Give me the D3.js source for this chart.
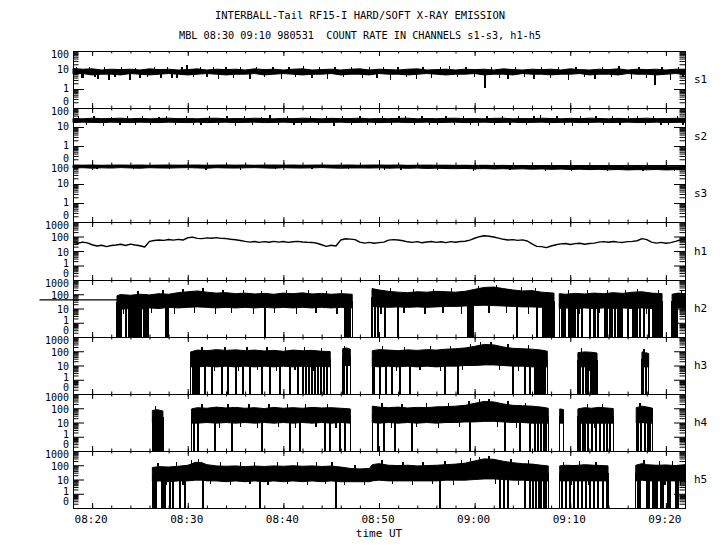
<!DOCTYPE html>
<html>
<head>
<meta charset="utf-8">
<script src="https://cdn.jsdelivr.net/npm/d3@7/dist/d3.min.js"></script>
<style>
html,body{margin:0;padding:0;background:#fff;}
svg{display:block;}
text{font-family:"DejaVu Sans Mono","Liberation Mono",monospace;font-size:11px;fill:#000;white-space:pre;}
text.ylab{font-size:10px;}
</style>
</head>
<body>
<svg id="chart" width="720" height="550"></svg>
<script>
// ================= DATA =================
const titleLine1 = "INTERBALL-Tail RF15-I HARD/SOFT X-RAY EMISSION";
const titleLine2 = "MBL 08:30 09:10 980531  COUNT RATE IN CHANNELS s1-s3, h1-h5";
const xAxisTitle = "time UT";
// time is in minutes after 08:00 UT
const timeDomain = [18, 82];
const xMajorTicks = [20, 30, 40, 50, 60, 70, 80];
const xTickLabels = ["08:20","08:30","08:40","08:50","09:00","09:10","09:20"];
const channelNames = ["s1","s2","s3","h1","h2","h3","h4","h5"];
const channelTopValue = [100,100,100,1000,1000,1000,1000,1000];
const yTickValues3 = [0.1,1,10,100];
const yTickLabels3 = ["0","1","10","100"];
const yTickValues4 = [0.1,1,10,100,1000];
const yTickLabels4 = ["0","1","10","100","1000"];

// soft channels: max / min count rate per 1-minute bin, starting 08:18
const sGridStart = 18;
const s1Hi = [12,11,11.5,10,11,10.5,11,10,11.5,10.5, 11,10,10.5,11.5,10,11,10.5,11,10,11.5, 10.5,11,10,11,11.5,10,10.5,11,10,11, 11.5,10,11,10.5,10,11,11.5,10,10.5,11, 10,11,10.5,11,10,11.5,10.5,10,11,10.5, 11,10,11.5,10.5,10,11,10.5,11.5,10,11, 10.5,11,10,11,11];
const s1Lo = [6,6.5,5.5,6,6,5.5,6.5,6,5.5,6, 6.5,6,5.5,6,6.5,6,5.5,6,6,6.5, 5.5,6,6.5,6,5.5,6,6,6.5,5.5,6, 6,5.5,6.5,6,6,5.5,6,6.5,6,5.5, 6,6,6.5,5.5,6,6,5.5,6.5,6,6, 5.5,6,6,6.5,5.5,6,6,5.5,6.5,6, 6,5.5,6,6.5,6];
const s1Spikes = [[18.4,15],[18.9,4],[19.05,4.0],[19.7,14],[20.3,4.2],[20.6,3.5],[21.3,15],[21.76,3.0],[22.4,4.3],[23.1,14],[23.96,3.0],[24.5,13.5],[25.0,3.6],[25.8,4.2],[26.5,15],[27.2,4.0],[27.9,14],[28.35,3.6],[28.88,3.8],[29.4,14],[29.92,18],[30.6,4.1],[31.3,14.5],[32.0,4.3],[32.7,15],[33.2,3.4],[34.0,14],[34.8,4.0],[35.5,15],[36.5,3.2],[37.2,14],[38.0,4.2],[38.9,15],[39.8,3.5],[40.6,14],[41.3,4.1],[42.1,17],[43.0,4.0],[43.8,14.5],[44.6,3.3],[45.4,15],[46.3,4.2],[47.1,14],[48.3,3.6],[49.0,15],[49.8,4.0],[50.5,14],[51.2,3.1],[52.0,15],[52.9,4.2],[53.9,3.5],[54.6,14],[55.5,4.0],[56.4,15],[57.4,16],[58.2,4.1],[59.1,14],[60.0,4.3],[61.08,1.14],[61.8,15],[62.6,4.0],[63.5,3.3],[64.3,14],[65.2,4.2],[66.2,3.4],[67.0,15],[67.9,4.0],[68.8,14],[69.8,3.0],[70.6,15],[71.5,4.1],[72.6,3.2],[73.4,14],[74.3,4.2],[75.1,17],[76.4,3.3],[77.2,14.5],[78.0,4.0],[78.86,1.64],[79.6,15],[80.5,3.1],[81.3,14],[81.8,4.2]];

const s2Hi = [28,27,29,27.5,28,29,27,28.5,27,28, 29,27.5,28,27,28.5,29,27,28,27.5,29, 28,27,28.5,27.5,29,28,27,28.5,27.5,28, 29,27,28,27.5,28.5,29,27,28,27.5,28.5, 29,27.5,28,27,28.5,29,27,28,27.5,29, 28,27,28.5,27.5,29,28,27,28.5,27,28, 29,27.5,28,28.5,29];
const s2Lo = [17,18,17.5,17,18,17.5,17,18,17.5,17, 18,17.5,17,18,17,17.5,18,17,17.5,18, 17,17.5,18,17,17.5,18,17,17.5,18,17, 17.5,18,17,17.5,18,17,17.5,18,17,17.5, 18,17,17.5,18,17,17.5,18,17,17.5,18, 17,17.5,18,17,17.5,18,17,17.5,18,17, 17.5,18,17,17.5,18];
const s2Spikes = [[18.6,36],[19.4,13],[20.2,38],[21.2,11],[22.0,35],[22.9,13],[23.7,37],[24.5,12],[25.3,36],[26.1,13],[27.0,35],[27.8,40],[28.7,13],[29.9,39],[30.6,13],[31.4,12],[32.3,36],[33.2,13],[34.1,37],[35.0,11],[35.9,36],[36.8,13],[37.7,35],[38.6,42],[39.5,13],[40.4,36],[41.1,13],[41.9,12],[42.8,37],[43.7,13],[44.5,36],[45.3,11],[46.2,36],[47.1,13],[48.0,37],[48.8,13],[49.6,13],[50.4,36],[51.3,13],[52.1,37],[52.8,40],[53.7,13],[54.5,36],[55.3,13],[56.1,12],[57.0,37],[57.9,13],[58.8,36],[59.6,13],[60.4,11],[61.3,37],[62.1,13],[62.9,36],[63.7,12],[64.6,36],[65.4,13],[66.2,37],[66.9,45],[67.8,13],[68.6,36],[69.4,13],[70.2,11],[71.1,37],[71.9,13],[72.7,36],[73.5,12],[74.4,37],[75.2,13],[76.1,36],[77.0,40],[77.9,13],[78.7,36],[79.5,13],[80.3,12],[81.2,37],[81.8,13]];

const s3Hi = [100,98,100,97,99,100,98,100,97,99, 100,98,99,100,97,99,100,98,100,97, 99,100,98,100,97,99,100,98,99,100, 97,99,100,98,100,96,98,99,97,98, 96,97,95,97,94,96,93,95,92,94, 91,93,90,92,89,91,88,90,87,89, 86,88,85,87,88];
const s3Lo = [70,72,68,71,69,73,70,68,72,70, 69,71,73,70,68,72,70,69,71,73, 70,68,72,70,69,71,73,70,68,70, 70,69,71,68,70,67,69,66,68,65, 64,66,63,65,62,64,61,63,60,62, 59,61,58,60,57,59,56,58,55,57, 56,58,55,57,56];
const s3Spikes = [[20.5,60],[24.3,58],[28.1,62],[31.9,57],[35.5,55],[39.2,60],[43.0,58],[46.8,60],[50.6,56],[52.3,52],[56.1,54],[59.9,50],[63.7,52],[67.4,48],[70.1,48],[73.9,50],[77.6,47],[80.9,49]];

// h1: count rate every 30 s from 08:18
const h1Start = 18, h1Step = 0.5;
const h1Values = [38,34,41,36, 27,22,25,20,24,26, 29,24,30,26, 23,19, 46,53,57,54,62,56,63,57, 82,90, 74,71, 80,76,84,74,72,64,60,53, 46,41,45,39,44,40,46,41,45,39,43,46,42,40,39,34, 27,21,25,22, 57,70,66,61, 41,35,39,34,38,41, 56,61,57,51, 43,39,44,37,42,45,39,43,38,44,40,45,47,56, 76,97,112,103,92,78, 64,57,61,54,59,49, 31,21,20,17,22, 27,31,33,28,32,34,29,33,35, 41,44,40,45,41,39,44,46,51, 72,61, 41,35,39,34,38, 46,57,62];

// hard channels: [time, max, min] of the noisy count rate; null = no counts (gap)
const h2Flat = [[14.5,40],[22.6,40]];
const h2Band = [
 [22.6,80,10],[23,95,9],[24,85,10],[25,100,9],[26,90,11],[27,110,10],[28,100,12],[29,130,11],[30,150,12],[31,170,13],[32,140,12],[33,120,11],[34,130,12],[35,110,11],[36,120,12],[37,105,11],[38,115,12],[39,100,11],[40,120,12],[41,110,11],[42,125,12],[43,105,11],[44,115,12],[45,100,11],[46,110,12],[47.2,100,11],
 null,
 [49.27,250,14],[50,200,13],[51,160,12],[52,140,13],[53,130,12],[54,150,13],[55,140,12],[56,160,13],[57,150,14],[58,140,14],[59,160,15],[60,220,16],[61,300,17],[62,320,16],[63,250,15],[64,200,14],[65,170,13],[66,180,13],[67,140,12],[68.3,120,11],
 null,
 [68.85,110,10],[69.5,100,11],[70.5,115,10],[71.5,105,11],[72.5,120,10],[73.5,110,11],[74.5,130,10],[75.5,115,11],[76.5,140,10],[77.5,150,11],[78.5,120,10],[79.6,110,10],
 null,
 [80.65,100,10],[81.3,120,11],[82,110,10]
];
const h2Drops = [22.81,22.92,23.02,23.54,23.86,24.07,24.17,24.38,24.48,24.69,24.9,25.11,25.42,25.53,25.74,25.84,27.73,27.93,38.08,46.45,46.55,46.65,46.76,46.97,49.58,49.9,50.63,51.99,59.31,59.52,59.62,59.83,64.43,66.52,67.15,67.26,67.47,67.57,67.67,67.88,67.99,68.2,69.14,69.24,69.45,69.87,70.08,70.29,70.5,70.81,71.23,72.07,72.48,72.59,72.9,73.63,73.84,74.16,74.37,74.68,74.99,75.2,75.41,76.04,76.56,76.77,76.98,77.3,77.72,78.24,78.65,78.86,79.07,79.28,79.49,80.85,80.95,81.06,81.16];
const h2Spikes = [[23.3,4],[24.8,180],[26.2,5],[27.4,190],[28.6,4],[29.5,220],[30.7,5],[31.6,260],[32.9,4],[33.7,200],[34.6,5],[35.8,190],[36.9,4],[37.7,180],[39.1,5],[40.3,200],[41.4,4],[42.6,210],[43.4,5],[44.5,180],[45.6,4],[46.1,190],[50.2,4],[51.2,260],[52.6,5],[53.6,230],[54.8,4],[55.7,250],[56.7,5],[57.6,260],[58.6,4],[60.4,400],[61.5,5],[62.3,450],[63.3,5],[64.9,300],[65.6,4],[66.4,280],[69.8,200],[70.9,4],[71.8,190],[73.0,5],[73.9,200],[75.0,4],[75.8,210],[77.0,220],[78.0,4],[79.2,190],[81.6,200]];

const h3Band = [
 [30.3,90,8],[31,120,8],[32,110,9],[33,130,8],[34,115,9],[35,125,8],[36,110,9],[37,120,8],[38,105,9],[39,115,8],[40,100,9],[41,120,8],[42,110,9],[43,115,8],[44,100,9],[44.9,95,8],
 null,
 [46.2,150,10],[46.6,170,10],[47.0,140,10],
 null,
 [49.3,110,9],[50,130,8],[51,120,9],[52,110,8],[53,125,9],[54,115,8],[55,130,9],[56,120,8],[57,140,9],[58,150,9],[59,170,10],[60,220,10],[61,300,11],[62,280,11],[63,200,10],[64,160,9],[65,150,9],[66,140,8],[67,120,8],[67.6,100,8],
 null,
 [70.8,80,8],[71.5,90,8],[72.2,85,8],[72.8,75,8],
 null,
 [77.5,90,8],[77.85,80,8],[78.2,70,8]
];
const h3Drops = [30.55,30.76,30.97,31.18,31.8,32.53,33.58,34.21,35.05,35.78,36.51,37.76,38.6,39.65,40.69,41.53,42.05,42.37,42.68,42.99,43.3,43.62,43.93,44.25,44.56,46.34,46.65,49.48,50.1,50.73,51.36,52.2,53.24,56.9,58.26,64.01,65.27,65.79,66.31,66.52,66.73,66.94,67.15,67.36,71.02,71.33,71.65,71.86,72.17,72.38,72.59,77.61,77.92];
const h3Spikes = [[31.5,200],[32.8,4],[33.9,210],[35.3,4],[36.2,200],[37.3,5],[38.3,190],[39.3,4],[40.2,200],[41.2,5],[42.2,190],[43.1,4],[44.0,180],[46.4,250],[50.4,220],[51.8,4],[52.7,210],[54.3,5],[55.4,230],[56.4,4],[57.5,240],[58.7,5],[59.6,300],[60.6,420],[61.7,450],[62.6,5],[63.5,320],[64.6,4],[65.6,260],[71.2,160],[72.0,4],[77.7,150]];

const h4Band = [
 [26.3,70,9],[26.8,80,9],[27.4,65,9],
 null,
 [30.4,90,9],[31,110,9],[32,100,10],[33,120,9],[34,105,10],[35,115,9],[36,100,10],[37,110,9],[38,95,10],[39,115,9],[40,100,10],[41,110,9],[42,100,10],[43,115,9],[44,105,10],[45,110,9],[46,100,10],[47.0,90,9],
 null,
 [49.3,140,10],[50,120,9],[51,110,10],[52,120,9],[53,105,10],[54,115,9],[55,110,10],[56,125,9],[57,130,10],[58,140,10],[59,160,11],[60,220,11],[61,300,12],[62,280,12],[63,200,11],[64,160,10],[65,150,10],[66,140,9],[67,120,9],[67.7,100,9],
 null,
 [68.9,90,9],[69.3,80,9],
 null,
 [70.8,90,9],[71.5,110,9],[72.2,100,9],[73,115,9],[73.8,105,9],[74.5,95,9],
 null,
 [76.9,110,9],[77.5,140,10],[78.1,120,9],[78.6,100,9]
];
const h4Drops = [26.37,26.58,26.78,26.99,27.2,30.65,31.07,32.85,34.63,37.76,40.69,41.74,44.35,44.88,45.92,46.45,49.9,50.52,51.67,53.45,59.52,63.18,64.75,65.79,66.31,66.63,66.94,67.26,67.47,71.02,71.33,71.54,71.86,72.28,72.69,73.11,73.53,73.84,74.16,77.09,77.4,77.82,78.13,78.34];
const h4Spikes = [[26.6,140],[31.5,200],[33.3,4],[34.2,210],[35.5,5],[36.4,190],[37.3,4],[38.5,200],[39.5,5],[40.4,190],[41.3,4],[42.3,200],[43.4,5],[44.6,190],[45.5,4],[50.3,230],[51.3,4],[52.4,210],[53.9,5],[55.0,220],[56.2,4],[57.3,240],[58.4,5],[59.4,300],[60.5,420],[61.5,460],[62.4,5],[63.5,320],[64.4,4],[65.3,250],[71.8,200],[72.6,4],[73.4,190],[77.3,220],[77.9,4]];

const h5Band = [
 [26.3,70,7],[27,80,8],[28,75,7],[29,85,8],[30,100,8],[30.8,160,9],[31.5,150,9],[32,110,8],[33,90,8],[34,85,7],[35,90,8],[36,80,7],[37,88,8],[38,82,7],[39,90,8],[40,85,7],[41,92,8],[42,85,7],[43,90,8],[44,82,7],[45,88,8],[46,75,7],[47,60,7],[48,55,7],[49,60,7],[49.3,110,8],[50,130,9],[51,100,8],[52,95,8],[53,100,8],[54,90,8],[55,95,8],[56,100,8],[57,110,9],[58,120,9],[59,140,9],[60,200,10],[61,280,11],[62,260,11],[63,190,10],[64,150,9],[65,130,9],[66,120,8],[67,100,8],[67.7,90,8],
 null,
 [68.9,90,8],[69.5,100,8],[70.5,95,8],[71.5,110,8],[72.5,100,8],[73.5,95,8],[73.95,90,8],
 null,
 [76.85,100,8],[77.5,130,9],[78,110,8],[79,100,8],[80,105,8],[81,95,8],[82,110,8]
];
const h5Drops = [26.47,26.68,27.31,27.41,27.52,27.62,28.14,28.46,29.19,29.71,31.59,37.55,45.5,56.38,62.65,63.07,63.49,65.27,65.79,66.1,66.42,66.73,66.94,67.26,67.47,69.14,69.56,69.97,70.39,70.81,71.23,71.65,72.07,72.48,72.9,73.42,73.84,77.09,77.3,78.03,78.24,78.65,78.86,79.07,79.49,79.7,80.22,80.43,81.06,81.27];
const h5Spikes = [[26.9,150],[27.8,4],[28.8,160],[29.5,4],[30.4,220],[31.1,260],[32.4,5],[33.4,170],[34.5,4],[35.5,170],[36.5,5],[37.0,160],[38.4,4],[39.4,170],[40.4,5],[41.5,175],[42.5,4],[43.5,170],[44.4,5],[45.1,160],[46.4,4],[47.5,110],[48.5,4],[50.3,230],[51.4,5],[52.5,180],[53.5,4],[54.6,175],[55.6,5],[56.9,190],[57.8,4],[58.6,220],[59.6,300],[60.5,380],[61.5,430],[62.2,5],[63.8,280],[64.6,4],[65.6,230],[69.3,180],[70.1,4],[71.0,200],[71.9,4],[72.7,180],[77.7,230],[79.3,190],[79.9,4],[80.7,200],[81.5,4]];

// ================= RENDER =================
const svg = d3.select("#chart");
const X0 = 73, X1 = 685, PANEL_TOP = 51, PANEL_H = 57.16;
const x = d3.scaleLinear().domain(timeDomain).range([X0, X1]);
const panelY = d3.range(channelNames.length + 1).map(k => Math.round(PANEL_TOP + k * PANEL_H));

const gridRows = (hi, lo) => hi.map((h, k) => [sGridStart + k, h, lo[k]]);
const bandData = {s1: gridRows(s1Hi, s1Lo), s2: gridRows(s2Hi, s2Lo), s3: gridRows(s3Hi, s3Lo),
                  h2: h2Band, h3: h3Band, h4: h4Band, h5: h5Band};
const spikeData = {s1: s1Spikes, s2: s2Spikes, s3: s3Spikes, h2: h2Spikes, h3: h3Spikes, h4: h4Spikes, h5: h5Spikes};
const dropData = {h2: h2Drops, h3: h3Drops, h4: h4Drops, h5: h5Drops};
const flatData = {h2: h2Flat};

function bandMid(band, t) {
  let best = null, bd = Infinity;
  band.forEach(r => { if (r) { const d = Math.abs(r[0] - t); if (d < bd) { bd = d; best = r; } } });
  return Math.sqrt(best[1] * best[2]);
}

// titles
function squeezedText(str, cx, baseline, len) {
  svg.append("text").attr("x", cx - len / 2).attr("y", baseline)
     .attr("xml:space", "preserve")
     .attr("textLength", len).attr("lengthAdjust", "spacingAndGlyphs").text(str);
}
squeezedText(titleLine1, 360, 19, 290);
squeezedText(titleLine2, 360, 39, 362);

channelNames.forEach((name, i) => {
  const top = channelTopValue[i];
  const y0 = panelY[i], y1 = panelY[i + 1];
  const y = d3.scaleLog().domain([0.1, top]).range([y1, y0]).clamp(true);
  const g = svg.append("g");

  // data
  const band = bandData[name];
  if (flatData[name]) {
    g.append("path").datum(flatData[name])
      .attr("d", d3.line().x(d => x(d[0])).y(d => y(d[1])))
      .attr("fill", "none").attr("stroke", "#000").attr("stroke-width", 1.2);
  }
  if (band) {
    const area = d3.area().defined(d => d !== null)
      .x(d => x(d[0])).y0(d => y(d[2])).y1(d => y(d[1]));
    g.append("path").datum(band).attr("d", area)
      .attr("fill", "#000").attr("stroke", "#000").attr("stroke-width", 1).attr("stroke-linejoin", "round");
  }
  if (name.startsWith("h") && band) {
    const edges = [];
    band.forEach((r, k) => {
      if (!r) return;
      const first = k === 0 || band[k - 1] === null;
      const last = k === band.length - 1 || band[k + 1] === null;
      if ((first && r[0] > timeDomain[0]) || (last && r[0] < timeDomain[1])) edges.push(r[0]);
    });
    const drops = (dropData[name] || []).concat(edges);
    g.selectAll("line.drop").data(drops).enter().append("line")
      .attr("x1", t => x(t)).attr("x2", t => x(t))
      .attr("y1", y(0.1)).attr("y2", t => y(bandMid(band, t)))
      .attr("stroke", "#000").attr("stroke-width", 1.3).attr("shape-rendering", "crispEdges");
  }
  if (spikeData[name]) {
    g.selectAll("line.spike").data(spikeData[name]).enter().append("line")
      .attr("x1", d => x(d[0])).attr("x2", d => x(d[0]))
      .attr("y1", d => y(bandMid(band, d[0]))).attr("y2", d => y(d[1]))
      .attr("stroke", "#000").attr("stroke-width", 1.3).attr("shape-rendering", "crispEdges");
  }
  if (name === "h1") {
    g.append("path").datum(h1Values)
      .attr("d", d3.line().x((v, k) => x(h1Start + k * h1Step)).y(v => y(v)))
      .attr("fill", "none").attr("stroke", "#000").attr("stroke-width", 1.4).attr("stroke-linejoin", "round");
  }

  // frame
  g.append("rect").attr("x", X0 + 0.5).attr("y", y0 + 0.5).attr("width", X1 - X0).attr("height", y1 - y0)
    .attr("fill", "none").attr("stroke", "#000").attr("stroke-width", 1);

  // y axes (log) left and right, ticks inward
  const majors = top === 100 ? yTickValues3 : yTickValues4;
  const labels = top === 100 ? yTickLabels3 : yTickLabels4;
  const minors = [];
  majors.slice(0, -1).forEach(d => { for (let m = 2; m <= 9; m++) minors.push(+(m * d).toPrecision(3)); });
  const addY = (axisFn, xpos, len, vals) => {
    const a = g.append("g").attr("transform", `translate(${xpos},0)`)
      .call(axisFn(y).tickValues(vals).tickSize(-len).tickSizeOuter(0).tickFormat(""));
    a.select(".domain").remove();
  };
  addY(d3.axisLeft, X0, 5.5, minors);
  addY(d3.axisLeft, X0, 11, majors);
  addY(d3.axisRight, X1, 5.5, minors);
  addY(d3.axisRight, X1, 11, majors);

  const four = majors.length === 5;
  majors.forEach((v, k) => {
    let off;
    if (k === majors.length - 1) off = 3.5;         // top label
    else if (k === 0) off = -6.5;                    // "0" at the bottom
    else if (four) off = (v === 1) ? -2.5 : 1;       // 4-decade panels
    else off = -1;
    g.append("text").attr("class", "ylab").attr("x", 69).attr("y", y(v) + off)
      .attr("text-anchor", "end").attr("dominant-baseline", "central").text(labels[k]);
  });

  // x axes top & bottom of each panel, ticks inward
  const xMinor = d3.range(20, 81, 2);
  const addX = (axisFn, ypos, len, vals) => {
    const a = g.append("g").attr("transform", `translate(0,${ypos})`)
      .call(axisFn(x).tickValues(vals).tickSize(len).tickSizeOuter(0).tickFormat(""));
    a.select(".domain").remove();
  };
  addX(d3.axisBottom, y0, 2.5, xMinor);
  addX(d3.axisBottom, y0, 5, xMajorTicks);
  addX(d3.axisTop, y1, 2.5, xMinor);
  addX(d3.axisTop, y1, 5, xMajorTicks);

  // channel name on the right
  g.append("text").attr("x", 694).attr("y", (y0 + y1) / 2).attr("dominant-baseline", "central").text(name);
});

// bottom tick labels and axis title
xMajorTicks.forEach((t, k) => {
  svg.append("text").attr("x", x(t) - 1).attr("y", 523).attr("text-anchor", "middle").text(xTickLabels[k]);
});
svg.append("text").attr("x", (X0 + X1) / 2).attr("y", 537).attr("text-anchor", "middle").text(xAxisTitle);
</script>
</body>
</html>
